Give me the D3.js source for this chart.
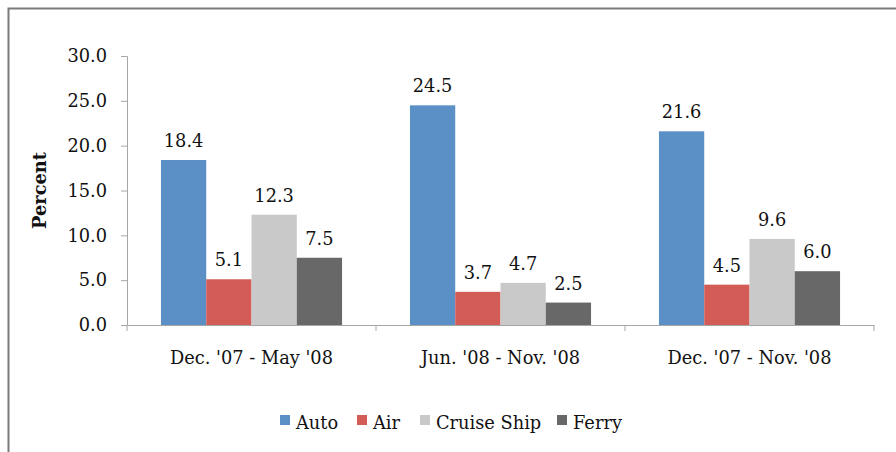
<!DOCTYPE html>
<html>
<head>
<meta charset="utf-8">
<script src="https://cdn.jsdelivr.net/npm/d3@7"></script>
<style>
  body { margin: 0; background: #fff; }
  svg { display: block; font-family: "DejaVu Serif", serif; }
</style>
</head>
<body>
<svg width="896" height="452"></svg>
<script>
const periods = ["Dec. '07 - May '08", "Jun. '08 - Nov. '08", "Dec. '07 - Nov. '08"];
const modes = ["Auto", "Air", "Cruise Ship", "Ferry"];
const auto = [18.4, 24.5, 21.6];
const air = [5.1, 3.7, 4.5];
const cruise = [12.3, 4.7, 9.6];
const ferry = [7.5, 2.5, 6.0];
const yTicks = [0, 5, 10, 15, 20, 25, 30];
const colors = ["#5b90c6", "#d35c57", "#c9c9c9", "#686868"];

const seriesValues = [auto, air, cruise, ferry];
const fontSize = 17.8;

var svg = d3.select("svg"),
  width = +svg.attr("width"),
  height = +svg.attr("height");

// outer frame (runs off the right and bottom edges)
svg.append("rect")
  .attr("x", 8.5).attr("y", 8.5)
  .attr("width", width + 20).attr("height", height + 20)
  .attr("fill", "none")
  .attr("stroke", "#7a7a7a")
  .attr("stroke-width", 2);

const plotLeft = 127, plotRight = 874, plotTop = 56, plotBottom = 325;

var x = d3.scaleBand().domain(periods).range([plotLeft, plotRight]);
var y = d3.scaleLinear().domain([0, 30]).range([plotBottom, plotTop]);

// excel style: gap width 150% -> bar = band / 5.5
var barW = x.bandwidth() / 5.5;
var offset = barW * 0.75;

var g = svg.append("g");

periods.forEach(function(p, i) {
  modes.forEach(function(m, j) {
    var v = seriesValues[j][i];
    var bx = x(p) + offset + j * barW;
    g.append("rect")
      .attr("x", bx)
      .attr("y", y(v))
      .attr("width", barW)
      .attr("height", y(0) - y(v))
      .attr("fill", colors[j]);
    g.append("text")
      .attr("x", bx + barW / 2)
      .attr("y", y(v) - 13)
      .attr("text-anchor", "middle")
      .attr("font-size", fontSize)
      .attr("fill", "#111")
      .text(v.toFixed(1));
  });
});

// y axis
var yAxis = svg.append("g")
  .attr("transform", "translate(" + plotLeft + ",0)")
  .call(d3.axisLeft(y).tickValues(yTicks).tickFormat(d3.format(".1f")).tickSizeOuter(0).tickSize(6).tickPadding(14));
yAxis.select(".domain").attr("stroke", "#a6a6a6");
yAxis.selectAll(".tick line").attr("stroke", "#a6a6a6");
yAxis.selectAll("text").attr("font-size", fontSize).attr("fill", "#111").attr("font-family", "DejaVu Serif, serif");

// x axis
var xAxis = svg.append("g")
  .attr("transform", "translate(0," + plotBottom + ")")
  .call(d3.axisBottom(x).tickSize(0).tickPadding(26));
xAxis.select(".domain").attr("stroke", "#a6a6a6");
xAxis.selectAll("text").attr("font-size", fontSize).attr("fill", "#111").attr("font-family", "DejaVu Serif, serif");
xAxis.selectAll(".sep")
  .data(periods.map(function(p) { return x(p); }).concat([plotRight]))
  .enter().append("line")
  .attr("x1", function(d) { return d; }).attr("x2", function(d) { return d; })
  .attr("y1", 0).attr("y2", 6)
  .attr("stroke", "#a6a6a6");

// y title
svg.append("text")
  .attr("transform", "translate(46," + ((plotTop + plotBottom) / 2) + ") rotate(-90)")
  .attr("text-anchor", "middle")
  .attr("font-size", fontSize)
  .attr("font-weight", "bold")
  .attr("fill", "#111")
  .text("Percent");

// legend
var legendX = [280, 357, 420, 557];
var legend = svg.append("g").attr("transform", "translate(0,423)");
modes.forEach(function(m, j) {
  legend.append("rect")
    .attr("x", legendX[j]).attr("y", -8)
    .attr("width", 10).attr("height", 10)
    .attr("fill", colors[j]);
  legend.append("text")
    .attr("x", legendX[j] + 16).attr("y", 6)
    .attr("font-size", fontSize)
    .attr("fill", "#111")
    .text(m);
});
</script>
</body>
</html>
